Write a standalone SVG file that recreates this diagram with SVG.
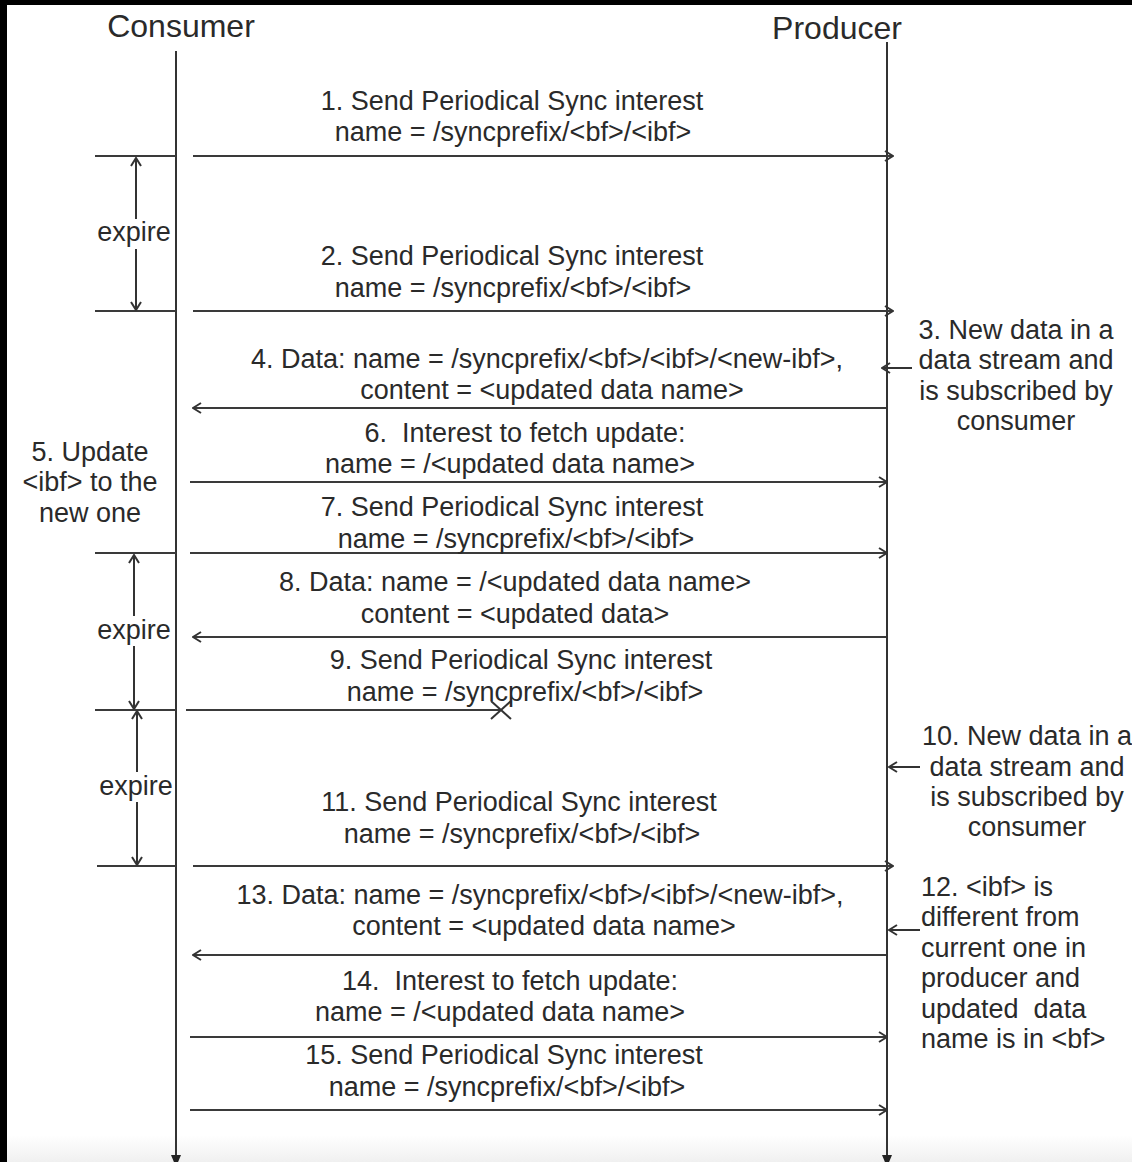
<svg xmlns="http://www.w3.org/2000/svg" width="1132" height="1162" viewBox="0 0 1132 1162">
<defs>
<style>
text{font-family:"Liberation Sans",Arial,sans-serif;fill:#2a2a2a;font-size:27px}
.m{text-anchor:middle}
.h{font-size:32px}
.e{font-size:27px}
.ln{stroke:#333;stroke-width:2;fill:none}
.msg{stroke:#3a3a3a;stroke-width:2.2;fill:none}
</style>
<marker id="open" viewBox="0 0 10 12" refX="9" refY="6" markerWidth="10" markerHeight="12" markerUnits="userSpaceOnUse" orient="auto-start-reverse">
<path d="M1,1 L9,6 L1,11" fill="none" stroke="#333" stroke-width="2"/>
</marker>
<marker id="fill" viewBox="0 0 12 10" refX="11" refY="5" markerWidth="12" markerHeight="10" markerUnits="userSpaceOnUse" orient="auto">
<path d="M0,0 L12,5 L0,10 z" fill="#222"/>
</marker>
<linearGradient id="bot" x1="0" y1="0" x2="0" y2="1">
<stop offset="0" stop-color="#ffffff"/>
<stop offset="1" stop-color="#f0f0f0"/>
</linearGradient>
</defs>
<rect x="0" y="0" width="1132" height="1162" fill="#ffffff"/>
<rect x="0" y="1135" width="1132" height="27" fill="url(#bot)"/>
<rect x="0" y="0" width="1132" height="5" fill="#000"/>
<rect x="0" y="0" width="7" height="1162" fill="#000"/>

<g id="consumer">
<text class="m h" x="181" y="37">Consumer</text>
<line class="ln" x1="176" y1="51" x2="176" y2="1166" marker-end="url(#fill)"/>
</g>
<g id="producer">
<text class="m h" x="837" y="39">Producer</text>
<line class="ln" x1="887" y1="42" x2="887" y2="1166" marker-end="url(#fill)"/>
</g>

<g id="connectors">
<line class="msg" x1="95" y1="156" x2="176" y2="156"/>
<line class="msg" x1="95" y1="311" x2="176" y2="311"/>
<line class="msg" x1="95" y1="553" x2="176" y2="553"/>
<line class="msg" x1="95" y1="710" x2="176" y2="710" stroke-width="3"/>
<line class="msg" x1="97" y1="866" x2="176" y2="866"/>
<line class="ln" x1="136" y1="158" x2="136" y2="219" marker-start="url(#open)"/>
<line class="ln" x1="136" y1="249" x2="136" y2="310" marker-end="url(#open)"/>
<line class="ln" x1="134" y1="555" x2="134" y2="616" marker-start="url(#open)"/>
<line class="ln" x1="134" y1="646" x2="134" y2="709" marker-end="url(#open)"/>
<line class="ln" x1="137" y1="711" x2="137" y2="772" marker-start="url(#open)"/>
<line class="ln" x1="137" y1="802" x2="137" y2="865" marker-end="url(#open)"/>
<line class="msg" x1="193" y1="156" x2="893" y2="156" marker-end="url(#open)"/>
<line class="msg" x1="193" y1="311" x2="893" y2="311" marker-end="url(#open)"/>
<line class="msg" x1="886" y1="408" x2="193" y2="408" marker-end="url(#open)"/>
<line class="msg" x1="190" y1="482" x2="887" y2="482" marker-end="url(#open)"/>
<line class="msg" x1="190" y1="553" x2="887" y2="553" marker-end="url(#open)"/>
<line class="msg" x1="886" y1="637" x2="193" y2="637" marker-end="url(#open)"/>
<line class="msg" x1="186" y1="710" x2="500" y2="710"/>
<path class="ln" d="M491,701 L511,719 M491,719 L511,701"/>
<line class="msg" x1="193" y1="866" x2="893" y2="866" marker-end="url(#open)"/>
<line class="msg" x1="886" y1="955" x2="193" y2="955" marker-end="url(#open)"/>
<line class="msg" x1="190" y1="1037" x2="887" y2="1037" marker-end="url(#open)"/>
<line class="msg" x1="190" y1="1110" x2="887" y2="1110" marker-end="url(#open)"/>
<line class="ln" x1="912" y1="368" x2="882" y2="368" marker-end="url(#open)"/>
<line class="ln" x1="920" y1="767" x2="889" y2="767" marker-end="url(#open)"/>
<line class="ln" x1="920" y1="930" x2="889" y2="930" marker-end="url(#open)"/>
</g>

<g id="expire-labels">
<text class="m e" x="134" y="241">expire</text>
<text class="m e" x="134" y="639">expire</text>
<text class="m e" x="136" y="795">expire</text>
</g>

<g id="msg1"><text class="m" x="512" y="110">1. Send Periodical Sync interest</text><text class="m" x="513" y="141">name = /syncprefix/&lt;bf&gt;/&lt;ibf&gt;</text></g>
<g id="msg2"><text class="m" x="512" y="265">2. Send Periodical Sync interest</text><text class="m" x="513" y="297">name = /syncprefix/&lt;bf&gt;/&lt;ibf&gt;</text></g>
<g id="note3"><text class="m" x="1016" y="339">3. New data in a</text><text class="m" x="1016" y="369">data stream and</text><text class="m" x="1016" y="400">is subscribed by</text><text class="m" x="1016" y="430">consumer</text></g>
<g id="msg4"><text class="m" x="547" y="368">4. Data: name = /syncprefix/&lt;bf&gt;/&lt;ibf&gt;/&lt;new-ibf&gt;,</text><text class="m" x="552" y="399">content = &lt;updated data name&gt;</text></g>
<g id="note5"><text class="m" x="90" y="461">5. Update</text><text class="m" x="90" y="491">&lt;ibf&gt; to the</text><text class="m" x="90" y="522">new one</text></g>
<g id="msg6"><text class="m" x="525" y="442" xml:space="preserve">6.  Interest to fetch update:</text><text class="m" x="510" y="473">name = /&lt;updated data name&gt;</text></g>
<g id="msg7"><text class="m" x="512" y="516">7. Send Periodical Sync interest</text><text class="m" x="516" y="548">name = /syncprefix/&lt;bf&gt;/&lt;ibf&gt;</text></g>
<g id="msg8"><text class="m" x="515" y="591">8. Data: name = /&lt;updated data name&gt;</text><text class="m" x="515" y="623">content = &lt;updated data&gt;</text></g>
<g id="msg9"><text class="m" x="521" y="669">9. Send Periodical Sync interest</text><text class="m" x="525" y="701">name = /syncprefix/&lt;bf&gt;/&lt;ibf&gt;</text></g>
<g id="note10"><text class="m" x="1027" y="745">10. New data in a</text><text class="m" x="1027" y="776">data stream and</text><text class="m" x="1027" y="806">is subscribed by</text><text class="m" x="1027" y="836">consumer</text></g>
<g id="msg11"><text class="m" x="519" y="811">11. Send Periodical Sync interest</text><text class="m" x="522" y="843">name = /syncprefix/&lt;bf&gt;/&lt;ibf&gt;</text></g>
<g id="note12"><text x="921" y="896">12. &lt;ibf&gt; is</text><text x="921" y="926">different from</text><text x="921" y="957">current one in</text><text x="921" y="987">producer and</text><text x="921" y="1018" xml:space="preserve">updated  data</text><text x="921" y="1048">name is in &lt;bf&gt;</text></g>
<g id="msg13"><text class="m" x="540" y="904">13. Data: name = /syncprefix/&lt;bf&gt;/&lt;ibf&gt;/&lt;new-ibf&gt;,</text><text class="m" x="544" y="935">content = &lt;updated data name&gt;</text></g>
<g id="msg14"><text class="m" x="510" y="990" xml:space="preserve">14.  Interest to fetch update:</text><text class="m" x="500" y="1021">name = /&lt;updated data name&gt;</text></g>
<g id="msg15"><text class="m" x="504" y="1064">15. Send Periodical Sync interest</text><text class="m" x="507" y="1096">name = /syncprefix/&lt;bf&gt;/&lt;ibf&gt;</text></g>
</svg>
